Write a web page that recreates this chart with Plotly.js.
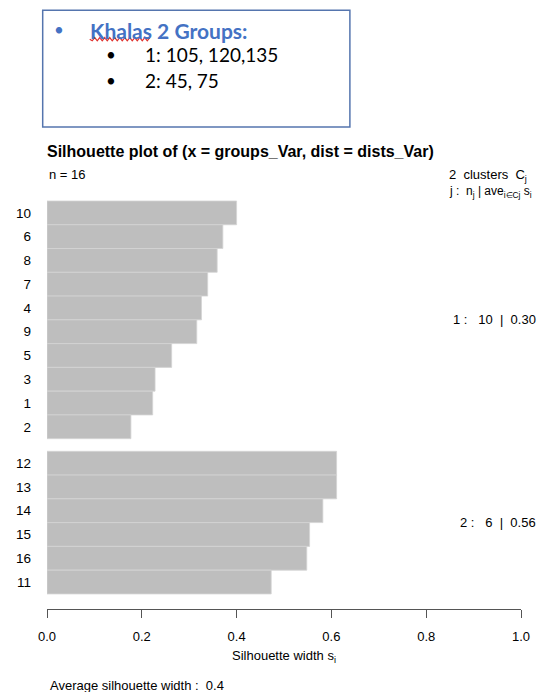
<!DOCTYPE html>
<html>
<head>
<meta charset="utf-8">
<script src="https://cdn.plot.ly/plotly-3.0.1.min.js"></script>
<style>
  html, body { margin: 0; padding: 0; background: #fff; }
  #chart { width: 543px; height: 692px; }
</style>
</head>
<body>
<div id="chart"></div>
<script>
// ---- data ----
var cluster1Labels = ['10', '6', '8', '7', '4', '9', '5', '3', '1', '2'];
var cluster1Widths = [0.400, 0.371, 0.359, 0.339, 0.326, 0.316, 0.263, 0.228, 0.223, 0.177];
var cluster2Labels = ['12', '13', '14', '15', '16', '11'];
var cluster2Widths = [0.611, 0.611, 0.582, 0.554, 0.548, 0.473];
var clusterIds = ['1', '2'];
var clusterSizes = ['10', '6'];
var clusterAvgs = ['0.30', '0.56'];
var avgWidth = '0.4';
var nObs = '16';
var xTickVals = [0, 0.2, 0.4, 0.6, 0.8, 1.0];
var xTickText = ['0.0', '0.2', '0.4', '0.6', '0.8', '1.0'];
var boxTitle = 'Khalas 2 Groups:';
var boxLines = ['1: 105, 120,135', '2: 45, 75'];

// ---- layout geometry (pixels) ----
var W = 543, H = 692;
var plotL = 47.3, plotR = 521, plotT = 190, plotB = 609.5;
var pxPerBar = 23.8, gap = 0.53;
var NB = '\u00a0';

// bar positions (cluster 2 sits after a small gap)
var pos1 = cluster1Labels.map(function (_, i) { return i; });
var pos2 = cluster2Labels.map(function (_, i) { return cluster1Labels.length + gap + i; });
var firstBarTopPx = 201;
var yTop = -0.5 - (firstBarTopPx - plotT) / pxPerBar;
var yBot = yTop + (plotB - plotT) / pxPerBar;

function px(x) { return (x - plotL) / (plotR - plotL); }
function py(y) { return (plotB - y) / (plotB - plotT); }

var barStyle = { color: '#BEBEBE', line: { color: '#D4D4D4', width: 0.8 } };

var traces = [
  { type: 'bar', orientation: 'h', x: cluster1Widths, y: pos1, width: 1, marker: barStyle, hoverinfo: 'x' },
  { type: 'bar', orientation: 'h', x: cluster2Widths, y: pos2, width: 1, marker: barStyle, hoverinfo: 'x' }
];

var font = 'Liberation Sans, Arial, Helvetica, sans-serif';
var boxFont = 'Lato, Open Sans, sans-serif';

function mean(a) { return a.reduce(function (s, v) { return s + v; }, 0) / a.length; }

function ann(text, x, y, xanchor, size, extra) {
  var a = { text: text, xref: 'paper', yref: 'paper', x: px(x), y: py(y), xanchor: xanchor, yanchor: 'middle', showarrow: false, font: { family: font, size: size, color: '#000' } };
  if (extra) { for (var k in extra) { a[k] = extra[k]; } }
  return a;
}

var annotations = [
  ann('n = ' + nObs, 47, 174, 'left', 13),
  ann('2' + NB + ' clusters' + NB + ' C<sub>j</sub>', 447, 175, 'left', 13),
  ann('j' + NB + ':' + NB + ' n<sub>j</sub>' + NB + '|' + NB + 'ave<sub>i\u2208Cj</sub>' + NB + 's<sub>i</sub>', 447, 192, 'left', 12),
  { text: clusterIds[0] + NB + ':' + NB + NB + NB + clusterSizes[0] + NB + NB + '|' + NB + NB + clusterAvgs[0], xref: 'paper', yref: 'y', x: px(538), y: mean(pos1), xanchor: 'right', yanchor: 'middle', showarrow: false, font: { family: font, size: 13, color: '#000' } },
  { text: clusterIds[1] + NB + ':' + NB + NB + NB + clusterSizes[1] + NB + NB + '|' + NB + NB + clusterAvgs[1], xref: 'paper', yref: 'y', x: px(538), y: mean(pos2), xanchor: 'right', yanchor: 'middle', showarrow: false, font: { family: font, size: 13, color: '#000' } },
  ann('Silhouette width s<sub>i</sub>', 230, 657, 'left', 13),
  ann('Average silhouette width :' + NB + ' ' + avgWidth, 48, 686, 'left', 13),
  // text box content
  { text: '\u2022', xref: 'paper', yref: 'paper', x: px(59), y: py(29), xanchor: 'center', yanchor: 'middle', showarrow: false, font: { family: boxFont, size: 17, color: '#4472C4' } },
  { text: '<b>' + boxTitle + '</b>', xref: 'paper', yref: 'paper', x: px(88), y: py(30), xanchor: 'left', yanchor: 'middle', showarrow: false, font: { family: boxFont, size: 21, color: '#4472C4' } },
  { text: '\u2022', xref: 'paper', yref: 'paper', x: px(111), y: py(54), xanchor: 'center', yanchor: 'middle', showarrow: false, font: { family: boxFont, size: 17, color: '#000' } },
  { text: boxLines[0], xref: 'paper', yref: 'paper', x: px(143), y: py(54), xanchor: 'left', yanchor: 'middle', showarrow: false, font: { family: boxFont, size: 19, color: '#000' } },
  { text: '\u2022', xref: 'paper', yref: 'paper', x: px(111), y: py(80), xanchor: 'center', yanchor: 'middle', showarrow: false, font: { family: boxFont, size: 17, color: '#000' } },
  { text: boxLines[1], xref: 'paper', yref: 'paper', x: px(143), y: py(80), xanchor: 'left', yanchor: 'middle', showarrow: false, font: { family: boxFont, size: 19, color: '#000' } }
];

// red wavy spell-check underline below "Khalas"
var wave = 'M ' + px(90) + ' ' + py(39);
for (var wx = 90, k = 0; wx < 149; wx += 2.5, k++) {
  wave += ' L ' + px(wx + 2.5) + ' ' + py(39 + (k % 2 === 0 ? 1.6 : -1.6));
}

var shapes = [
  { type: 'rect', xref: 'paper', yref: 'paper', x0: px(43), x1: px(350), y0: py(10), y1: py(127), line: { color: '#5575AE', width: 1.5 }, fillcolor: 'rgba(0,0,0,0)' },
  { type: 'path', xref: 'paper', yref: 'paper', path: wave, line: { color: '#E0302C', width: 1.2 } }
];

var layout = {
  width: W, height: H,
  paper_bgcolor: '#fff', plot_bgcolor: '#fff',
  margin: { l: plotL, r: W - plotR, t: plotT, b: H - plotB, pad: 0 },
  showlegend: false,
  bargap: 0,
  title: { text: '<b>Silhouette plot of (x = groups_Var, dist = dists_Var)</b>', xref: 'container', yref: 'container', x: 47 / W, y: 1 - 151 / H, xanchor: 'left', yanchor: 'middle', font: { family: font, size: 16, color: '#000' } },
  xaxis: {
    range: [0, 1], tickvals: xTickVals, ticktext: xTickText,
    showline: true, linecolor: '#555', linewidth: 1,
    ticks: 'outside', ticklen: 8, tickcolor: '#555', tickwidth: 1,
    ticklabelstandoff: 7,
    showgrid: false, zeroline: false,
    tickfont: { family: font, size: 13, color: '#000' },
    fixedrange: true
  },
  yaxis: {
    range: [yBot, yTop], autorange: false,
    tickvals: pos1.concat(pos2), ticktext: cluster1Labels.concat(cluster2Labels),
    ticks: '', showline: false, showgrid: false, zeroline: false,
    ticklabelstandoff: 15,
    tickfont: { family: font, size: 13.5, color: '#000' },
    fixedrange: true
  },
  annotations: annotations,
  shapes: shapes
};

Plotly.newPlot('chart', traces, layout, { displayModeBar: false, staticPlot: true });
</script>
</body>
</html>
